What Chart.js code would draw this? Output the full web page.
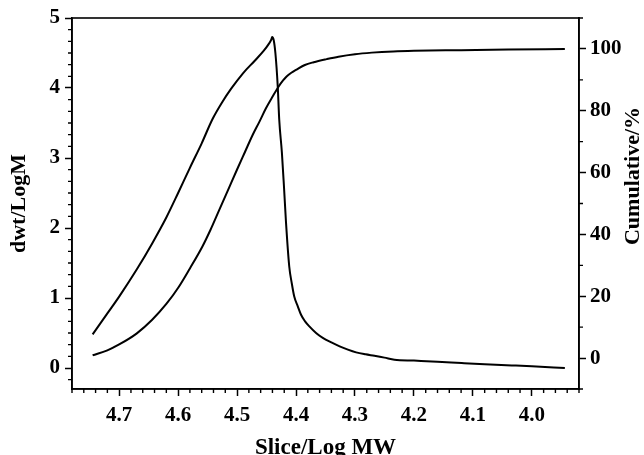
<!DOCTYPE html>
<html lang="en">
<head>
    <meta charset="UTF-8">
    <title>dwt/LogM and Cumulative vs Slice/Log MW</title>
    <script src="https://cdn.jsdelivr.net/npm/chart.js"></script>
    <style>
        body {
            margin: 0;
            background: #fff;
        }
        #wrap {
            width: 644px;
            height: 455px;
        }
    </style>
</head>
<body>

    <div id="wrap"><canvas id="gpcChart" width="644" height="455"></canvas></div>

    <script type='text/javascript'>
    // differential curve (left axis)
    const dwtLogMW = [4.745, 4.72, 4.70, 4.67, 4.644, 4.62, 4.60, 4.58, 4.56, 4.542, 4.525, 4.51, 4.49, 4.47, 4.455, 4.447, 4.442, 4.4405, 4.438, 4.435, 4.431, 4.4285, 4.424, 4.4205, 4.417, 4.4115, 4.407, 4.403, 4.397, 4.3915, 4.385, 4.3774, 4.366, 4.3546, 4.34, 4.326, 4.312, 4.298, 4.282, 4.267, 4.25, 4.233, 4.20, 4.16, 4.119, 4.08, 4.034, 4.00, 3.944];
    const dwtValues = [0.48, 0.78, 1.02, 1.41, 1.78, 2.15, 2.50, 2.86, 3.21, 3.55, 3.80, 3.99, 4.21, 4.39, 4.53, 4.62, 4.69, 4.73, 4.69, 4.50, 4.02, 3.55, 3.08, 2.60, 2.08, 1.45, 1.20, 1.02, 0.88, 0.76, 0.67, 0.594, 0.50, 0.43, 0.365, 0.31, 0.262, 0.223, 0.195, 0.174, 0.148, 0.119, 0.106, 0.090, 0.071, 0.054, 0.037, 0.024, 0.0];

    // cumulative curve (right axis)
    const cumLogMW = [4.745, 4.72, 4.70, 4.67, 4.644, 4.62, 4.599, 4.58, 4.559, 4.545, 4.53, 4.515, 4.50, 4.487, 4.474, 4.462, 4.451, 4.44, 4.430, 4.422, 4.416, 4.408, 4.40, 4.385, 4.37, 4.348, 4.328, 4.30, 4.2715, 4.235, 4.20, 4.12, 4.04, 3.944];
    const cumValues = [0.9, 2.5, 4.4, 8.0, 12.4, 17.5, 23.0, 29.0, 36.0, 41.5, 48.0, 54.5, 61.0, 66.5, 72.0, 76.5, 80.8, 84.5, 87.7, 89.8, 91.1, 92.3, 93.2, 94.8, 95.7, 96.7, 97.5, 98.3, 98.8, 99.2, 99.4, 99.6, 99.8, 100];

    // tick labels
    const xTicks = [4.7, 4.6, 4.5, 4.4, 4.3, 4.2, 4.1, 4.0];
    const leftTicks = [0, 1, 2, 3, 4, 5];
    const rightTicks = [0, 20, 40, 60, 80, 100];

    const serif = 'Liberation Serif';

    function toPoints(xs, ys) {
        return xs.map((x, i) => ({ x: x, y: ys[i] }));
    }

    // frame, minor ticks and the right-hand title
    const framePlugin = {
        id: 'frame',
        afterDraw(chart) {
            const ctx = chart.ctx;
            const a = chart.chartArea;
            const sx = chart.scales.x, sy = chart.scales.y, sy2 = chart.scales.y2;
            ctx.save();
            ctx.strokeStyle = '#000';
            ctx.lineWidth = 1.6;
            ctx.strokeRect(a.left, a.top, a.right - a.left, a.bottom - a.top);

            ctx.lineWidth = 1.4;
            ctx.beginPath();
            // x minor every 0.02
            for (let i = 196; i <= 239; i++) {
                if (i % 5 === 0) continue;
                const px = sx.getPixelForValue(i / 50);
                ctx.moveTo(px, a.bottom);
                ctx.lineTo(px, a.bottom + 4);
            }
            // left minor every 1/6
            for (let i = -1; i <= 30; i++) {
                if (i % 6 === 0) continue;
                const py = sy.getPixelForValue(i / 6);
                ctx.moveTo(a.left, py);
                ctx.lineTo(a.left - 4, py);
            }
            // right minor every 10
            for (let v = -10; v <= 110; v += 20) {
                const py = sy2.getPixelForValue(v);
                ctx.moveTo(a.right, py);
                ctx.lineTo(a.right + 4, py);
            }
            ctx.stroke();

            ctx.fillStyle = '#000';
            ctx.font = 'bold 22px "' + serif + '"';
            ctx.textAlign = 'center';
            ctx.textBaseline = 'middle';
            ctx.translate(633, 176);
            ctx.rotate(-Math.PI / 2);
            ctx.fillText('Cumulative/%', 0, 0);
            ctx.restore();
        }
    };

    const tickFont = { family: serif, weight: 'bold', size: 21 };
    const gridOpts = { drawOnChartArea: false, tickLength: 7, tickWidth: 1.5, tickColor: '#000' };
    const borderOpts = { color: '#000', width: 1.6 };

    const ctx = document.getElementById('gpcChart').getContext('2d');

    new Chart(ctx, {
        type: 'line',
        data: {
            datasets: [{
                label: 'dwt/LogM',
                data: toPoints(dwtLogMW, dwtValues),
                yAxisID: 'y',
                borderColor: '#000',
                borderWidth: 2,
                pointRadius: 0,
                cubicInterpolationMode: 'monotone',
                fill: false
            }, {
                label: 'Cumulative/%',
                data: toPoints(cumLogMW, cumValues),
                yAxisID: 'y2',
                borderColor: '#000',
                borderWidth: 2,
                pointRadius: 0,
                cubicInterpolationMode: 'monotone',
                fill: false
            }]
        },
        options: {
            responsive: false,
            animation: false,
            layout: { padding: { top: 18, left: 0, right: 0, bottom: 0 } },
            plugins: {
                legend: { display: false },
                tooltip: { enabled: false }
            },
            scales: {
                x: {
                    type: 'linear',
                    reverse: true,
                    min: 3.92,
                    max: 4.78,
                    afterBuildTicks: s => { s.ticks = xTicks.map(v => ({ value: v })); },
                    afterFit: s => { s.height = 66; },
                    ticks: {
                        color: '#000',
                        font: tickFont,
                        padding: 7,
                        autoSkip: false,
                        maxRotation: 0,
                        callback: v => v.toFixed(1)
                    },
                    grid: gridOpts,
                    border: borderOpts,
                    title: {
                        display: true,
                        text: 'Slice/Log MW',
                        color: '#000',
                        font: { family: serif, weight: 'bold', size: 23, lineHeight: 0.6 },
                        padding: { top: 0, bottom: 0 }
                    }
                },
                y: {
                    position: 'left',
                    min: -0.3,
                    max: 5,
                    afterBuildTicks: s => { s.ticks = leftTicks.map(v => ({ value: v })); },
                    afterFit: s => { s.width = 72; },
                    ticks: { color: '#000', font: tickFont, padding: 5 },
                    grid: gridOpts,
                    border: borderOpts,
                    title: {
                        display: true,
                        text: 'dwt/LogM',
                        color: '#000',
                        font: { family: serif, weight: 'bold', size: 22, lineHeight: 1 },
                        padding: { top: 8, bottom: 0 }
                    }
                },
                y2: {
                    position: 'right',
                    min: -10,
                    max: 110,
                    afterBuildTicks: s => { s.ticks = rightTicks.map(v => ({ value: v })); },
                    afterFit: s => { s.width = 65; },
                    ticks: { color: '#000', font: tickFont, padding: 4 },
                    grid: gridOpts,
                    border: borderOpts
                }
            }
        },
        plugins: [framePlugin]
    });
    </script>

</body></html>
